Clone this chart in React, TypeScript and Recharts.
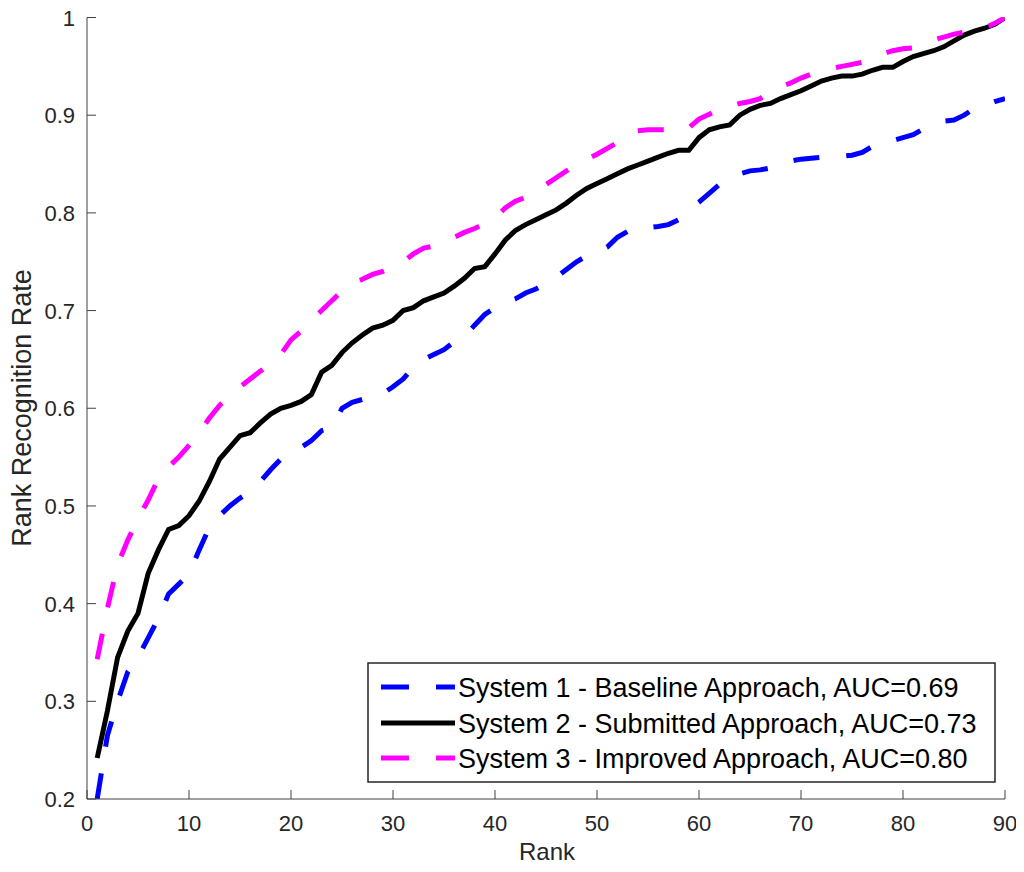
import React from 'react';
import { LineChart, Line, XAxis, YAxis } from 'recharts';

const ranks: number[] = Array.from({ length: 90 }, (_, i) => i + 1);

const baselineRates: number[] = [
  0.200, 0.265, 0.300, 0.330, 0.345, 0.365, 0.385, 0.410, 0.420, 0.430,
  0.455, 0.478, 0.490, 0.500, 0.508, 0.514, 0.525, 0.537, 0.548, 0.554,
  0.560, 0.567, 0.577, 0.580, 0.600, 0.606, 0.609, 0.612, 0.615, 0.622,
  0.630, 0.642, 0.650, 0.655, 0.660, 0.668, 0.673, 0.685, 0.696, 0.703,
  0.708, 0.712, 0.718, 0.722, 0.728, 0.734, 0.742, 0.750, 0.756, 0.760,
  0.765, 0.775, 0.781, 0.785, 0.785, 0.786, 0.788, 0.793, 0.803, 0.811,
  0.820, 0.829, 0.834, 0.840, 0.843, 0.844, 0.846, 0.850, 0.853, 0.855,
  0.856, 0.857, 0.857, 0.858, 0.859, 0.862, 0.868, 0.872, 0.874, 0.877,
  0.880, 0.886, 0.890, 0.894, 0.895, 0.900, 0.907, 0.910, 0.914, 0.917,
];

const submittedRates: number[] = [
  0.242, 0.290, 0.345, 0.372, 0.390, 0.431, 0.455, 0.476, 0.480, 0.490,
  0.505, 0.525, 0.548, 0.560, 0.572, 0.575, 0.585, 0.594, 0.600, 0.603,
  0.607, 0.614, 0.637, 0.644, 0.657, 0.667, 0.675, 0.682, 0.685, 0.690,
  0.700, 0.703, 0.710, 0.714, 0.718, 0.725, 0.733, 0.743, 0.745, 0.758,
  0.772, 0.782, 0.788, 0.793, 0.798, 0.803, 0.810, 0.818, 0.825, 0.830,
  0.835, 0.840, 0.845, 0.849, 0.853, 0.857, 0.861, 0.864, 0.864, 0.877,
  0.885, 0.888, 0.890, 0.900, 0.906, 0.910, 0.912, 0.917, 0.921, 0.925,
  0.930, 0.935, 0.938, 0.940, 0.940, 0.942, 0.946, 0.949, 0.949, 0.955,
  0.960, 0.963, 0.966, 0.970, 0.976, 0.982, 0.986, 0.989, 0.993, 1.000,
];

const improvedRates: number[] = [
  0.343, 0.395, 0.440, 0.465, 0.487, 0.506, 0.528, 0.540, 0.550, 0.562,
  0.575, 0.590, 0.603, 0.613, 0.622, 0.630, 0.638, 0.645, 0.655, 0.670,
  0.679, 0.690, 0.700, 0.710, 0.720, 0.728, 0.732, 0.737, 0.740, 0.744,
  0.750, 0.758, 0.764, 0.766, 0.770, 0.775, 0.780, 0.784, 0.789, 0.795,
  0.805, 0.812, 0.816, 0.822, 0.829, 0.836, 0.843, 0.849, 0.855, 0.860,
  0.866, 0.872, 0.880, 0.884, 0.885, 0.885, 0.885, 0.885, 0.887, 0.896,
  0.901, 0.906, 0.909, 0.912, 0.914, 0.917, 0.924, 0.929, 0.933, 0.938,
  0.942, 0.946, 0.948, 0.950, 0.952, 0.954, 0.958, 0.963, 0.966, 0.968,
  0.969, 0.972, 0.977, 0.980, 0.983, 0.985, 0.987, 0.989, 0.994, 1.000,
];

const xTicks: number[] = [0, 10, 20, 30, 40, 50, 60, 70, 80, 90];
const yTicks: number[] = [0.2, 0.3, 0.4, 0.5, 0.6, 0.7, 0.8, 0.9, 1];
const yTickLabels: string[] = ['0.2', '0.3', '0.4', '0.5', '0.6', '0.7', '0.8', '0.9', '1'];

const xTitle = 'Rank';
const yTitle = 'Rank Recognition Rate';

const seriesNames: string[] = [
  'System 1 - Baseline Approach, AUC=0.69',
  'System 2 - Submitted Approach, AUC=0.73',
  'System 3 - Improved Approach, AUC=0.80',
];
const seriesKeys: string[] = ['s1', 's2', 's3'];
const seriesColors: string[] = ['#0000ff', '#000000', '#ff00ff'];
const seriesDashes: (string | undefined)[] = ['26 27', undefined, '26 27'];

const data = ranks.map((r, i) => ({
  rank: r,
  s1: baselineRates[i],
  s2: submittedRates[i],
  s3: improvedRates[i],
}));

const FONT = '"Liberation Sans", Arial, Helvetica, sans-serif';
const AXIS = '#404040';
const TEXT = '#262626';
const TICK_LEN = 9;

const W = 1024;
const H = 872;
const M = { top: 17.5, right: 19, left: 0, bottom: 0 };
const Y_W = 87;
const X_H = 73;

const BottomTick = (props: any) => {
  const { x, y, payload } = props;
  return (
    <g>
      <line x1={x} x2={x} y1={y} y2={y - TICK_LEN} stroke={AXIS} strokeWidth={1} />
      <text x={x} y={y + 32} textAnchor="middle" fontFamily={FONT} fontSize={22} fill={TEXT}>
        {payload.value}
      </text>
    </g>
  );
};

const TopTick = (props: any) => {
  const { x, y } = props;
  return <line x1={x} x2={x} y1={y} y2={y + TICK_LEN} stroke={AXIS} strokeWidth={1} />;
};

const LeftTick = (props: any) => {
  const { x, y, payload } = props;
  const idx = yTicks.indexOf(payload.value);
  const label = idx >= 0 ? yTickLabels[idx] : String(payload.value);
  return (
    <g>
      <line x1={x} x2={x + TICK_LEN} y1={y} y2={y} stroke={AXIS} strokeWidth={1} />
      <text x={x - 12} y={y + 8} textAnchor="end" fontFamily={FONT} fontSize={22} fill={TEXT}>
        {label}
      </text>
    </g>
  );
};

const RightTick = (props: any) => {
  const { x, y } = props;
  return <line x1={x} x2={x - TICK_LEN} y1={y} y2={y} stroke={AXIS} strokeWidth={1} />;
};

const Overlay = () => {
  const left = 368;
  const top = 663;
  const width = 627;
  const height = 119;
  const rowY = [687, 723, 758];
  return (
    <svg
      width={W}
      height={H}
      style={{ position: 'absolute', left: 0, top: 0, pointerEvents: 'none', overflow: 'visible' }}
    >
      <rect x={left} y={top} width={width} height={height} fill="#ffffff" stroke={TEXT} strokeWidth={1.5} />
      {seriesNames.map((name, i) => (
        <g key={name}>
          <line
            x1={381}
            x2={455}
            y1={rowY[i]}
            y2={rowY[i]}
            stroke={seriesColors[i]}
            strokeWidth={5}
            strokeDasharray={seriesDashes[i] ? '28 27' : undefined}
          />
          <text x={458} y={rowY[i] + 9.5} fontFamily={FONT} fontSize={27} fill="#000000">
            {name}
          </text>
        </g>
      ))}
      <text x={547} y={860} textAnchor="middle" fontFamily={FONT} fontSize={24} fill={TEXT}>
        {xTitle}
      </text>
      <text
        x={0}
        y={0}
        transform="translate(31, 408) rotate(-90)"
        textAnchor="middle"
        fontFamily={FONT}
        fontSize={27}
        fill={TEXT}
      >
        {yTitle}
      </text>
    </svg>
  );
};

export default function App() {
  return (
    <div style={{ position: 'relative', width: W, height: H, margin: -8, background: '#ffffff' }}>
      <LineChart width={W} height={H} data={data} margin={M}>
        <XAxis
          xAxisId="bottom"
          dataKey="rank"
          type="number"
          domain={[0, 90]}
          ticks={xTicks}
          allowDataOverflow
          height={X_H}
          orientation="bottom"
          stroke={AXIS}
          tickLine={false}
          tickSize={0}
          tickMargin={0}
          tick={<BottomTick />}
          interval={0}
        />
        <XAxis
          xAxisId="top"
          dataKey="rank"
          type="number"
          domain={[0, 90]}
          ticks={xTicks}
          allowDataOverflow
          height={0}
          orientation="top"
          stroke={AXIS}
          tickLine={false}
          tickSize={0}
          tickMargin={0}
          tick={<TopTick />}
          interval={0}
        />
        <YAxis
          yAxisId="left"
          type="number"
          domain={[0.2, 1]}
          ticks={yTicks}
          allowDataOverflow
          width={Y_W}
          orientation="left"
          stroke={AXIS}
          tickLine={false}
          tickSize={0}
          tickMargin={0}
          tick={<LeftTick />}
          interval={0}
        />
        <YAxis
          yAxisId="right"
          type="number"
          domain={[0.2, 1]}
          ticks={yTicks}
          allowDataOverflow
          width={0}
          orientation="right"
          stroke={AXIS}
          tickLine={false}
          tickSize={0}
          tickMargin={0}
          tick={<RightTick />}
          interval={0}
        />
        {seriesKeys.map((k, i) => (
          <Line
            key={k}
            xAxisId="bottom"
            yAxisId="left"
            dataKey={k}
            name={seriesNames[i]}
            type="linear"
            stroke={seriesColors[i]}
            strokeWidth={5}
            strokeDasharray={seriesDashes[i]}
            dot={false}
            activeDot={false}
            isAnimationActive={false}
          />
        ))}
      </LineChart>
      <Overlay />
    </div>
  );
}
